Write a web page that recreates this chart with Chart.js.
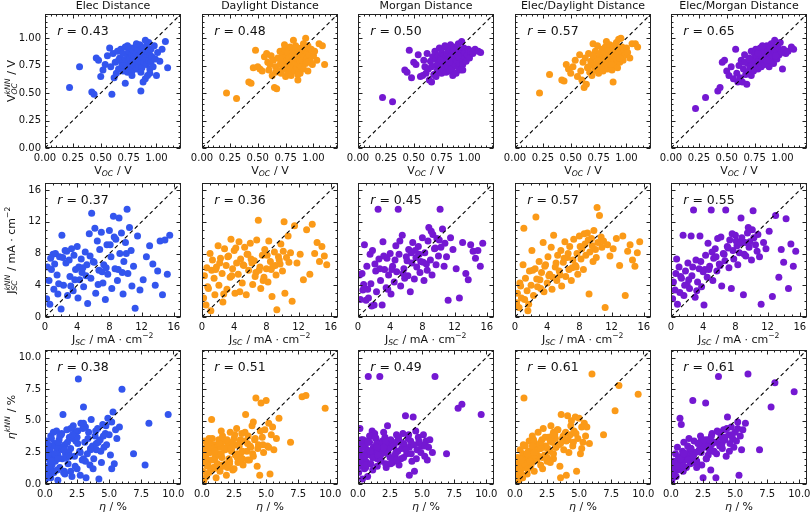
<!DOCTYPE html>
<html lang="en">
<head>
<meta charset="UTF-8">
<title>kNN predictions vs measured values</title>
<script src="https://cdn.jsdelivr.net/npm/chart.js@4.4.0/dist/chart.umd.min.js"></script>
<style>
  body { margin: 0; background: #fff; }
  #wrap { position: relative; width: 810px; height: 516px; overflow: hidden; }
  #wrap canvas { position: absolute; }
</style>
</head>
<body>
<div id="wrap"></div>
<script>
// ---- panel headers, colours, correlation values
const methods = ['Elec Distance', 'Daylight Distance', 'Morgan Distance', 'Elec/Daylight Distance', 'Elec/Morgan Distance'];
const colours = ['#3355ee', '#fb9a18', '#7418d2', '#fb9a18', '#7418d2'];
const rVoc = [0.43, 0.48, 0.50, 0.57, 0.65];
const rJsc = [0.37, 0.36, 0.45, 0.57, 0.55];
const rEta = [0.38, 0.51, 0.49, 0.61, 0.61];

// ---- tick labels
const vocTicks = [0, 0.25, 0.5, 0.75, 1.0];
const jscTicks = [0, 4, 8, 12, 16];
const etaTicks = [0, 2.5, 5, 7.5, 10];

// ---- row 1: open-circuit voltage (measured x, kNN predictions y)
const xVoc = [
  0.22,0.31,0.42,0.44,0.46,0.48,0.50,0.52,0.54,0.56,
  0.58,0.59,0.60,0.61,0.62,0.63,0.64,0.65,0.66,0.67,
  0.68,0.69,0.70,0.70,0.71,0.72,0.72,0.73,0.74,0.74,
  0.75,0.75,0.76,0.76,0.77,0.77,0.78,0.78,0.79,0.79,
  0.80,0.80,0.81,0.81,0.82,0.82,0.83,0.83,0.84,0.84,
  0.85,0.85,0.86,0.86,0.87,0.87,0.88,0.88,0.89,0.89,
  0.90,0.90,0.91,0.91,0.92,0.92,0.93,0.93,0.94,0.94,
  0.95,0.95,0.96,0.97,0.98,0.99,1.00,1.01,1.03,1.05,
  1.08,1.10,0.66,0.70,0.74,0.78,0.82,0.86,0.90,0.94
];
const vocElec = [
  0.55,0.74,0.51,0.49,0.82,0.80,0.65,0.71,0.76,0.84,
  0.91,0.74,0.49,0.86,0.64,0.78,0.68,0.88,0.72,0.82,
  0.90,0.76,0.70,0.86,0.80,0.59,0.92,0.75,0.84,0.69,
  0.79,0.88,0.73,0.82,0.91,0.77,0.85,0.70,0.80,0.89,
  0.75,0.83,0.92,0.78,0.86,0.72,0.81,0.90,0.76,0.84,
  0.94,0.79,0.52,0.87,0.73,0.83,0.60,0.91,0.78,0.86,
  0.63,0.82,0.93,0.76,0.66,0.88,0.80,0.96,0.72,0.85,
  0.90,0.78,0.83,0.74,0.93,0.81,0.66,0.87,0.79,0.90,
  0.97,0.73,0.80,0.75,0.93,0.66,0.95,0.69,0.98,0.68
];
const vocDaylight = [
  0.50,0.45,0.60,0.59,0.73,0.89,0.74,0.72,0.70,0.83,
  0.86,0.78,0.71,0.76,0.84,0.66,0.80,0.55,0.74,0.54,
  0.82,0.70,0.88,0.76,0.68,0.79,0.85,0.72,0.77,0.90,
  0.65,0.83,0.74,0.80,0.69,0.87,0.76,0.82,0.71,0.92,
  0.78,0.66,0.84,0.75,0.89,0.80,0.70,0.86,0.77,0.93,
  0.73,0.82,0.62,0.88,0.76,0.84,0.68,0.79,0.91,0.74,
  0.86,0.80,0.95,0.72,0.83,0.89,0.77,1.00,0.81,0.87,
  0.93,0.70,0.85,0.79,0.90,0.76,0.84,0.88,0.80,0.95,
  0.93,0.76,0.69,0.81,0.94,0.73,0.98,0.67,0.91,0.78
];
const vocMorgan = [
  0.46,0.42,0.71,0.69,0.89,0.64,0.78,0.76,0.85,0.65,
  0.66,0.80,0.74,0.68,0.86,0.72,0.62,0.79,0.60,0.83,
  0.67,0.88,0.75,0.81,0.70,0.84,0.77,0.91,0.73,0.82,
  0.68,0.87,0.79,0.75,0.84,0.71,0.92,0.78,0.83,0.69,
  0.86,0.80,0.74,0.89,0.82,0.70,0.94,0.77,0.85,0.72,
  0.88,0.66,0.81,0.92,0.76,0.84,0.68,0.90,0.79,0.86,
  0.73,0.95,0.82,0.77,0.88,0.71,0.84,0.97,0.80,0.76,
  0.91,0.83,0.87,0.79,0.85,0.90,0.82,0.88,0.86,0.90,
  0.88,0.87,0.74,0.65,0.80,0.93,0.78,0.89,0.84,0.71
];
const vocElecDaylight = [
  0.50,0.67,0.62,0.61,0.76,0.72,0.68,0.74,0.80,0.65,
  0.85,0.70,0.62,0.78,0.55,0.82,0.58,0.73,0.86,0.69,
  0.79,0.66,0.95,0.75,0.83,0.71,0.88,0.77,0.93,0.73,
  0.81,0.68,0.86,0.76,0.80,0.72,0.90,0.78,0.84,0.70,
  0.87,0.79,0.74,0.92,0.83,0.77,0.88,0.72,0.85,0.80,
  0.94,0.76,0.82,0.89,0.71,0.86,0.60,0.91,0.79,0.84,
  0.75,0.88,0.96,0.81,0.73,0.90,0.85,0.99,0.78,0.87,
  1.00,0.83,0.92,0.80,0.89,0.85,0.91,0.87,0.82,0.95,
  0.95,0.92,0.74,0.84,0.79,0.71,0.97,0.76,0.94,0.82
];
const vocElecMorgan = [
  0.36,0.46,0.52,0.55,0.78,0.80,0.70,0.66,0.74,0.63,
  0.90,0.68,0.60,0.75,0.64,0.80,0.60,0.72,0.85,0.67,
  0.58,0.77,0.70,0.82,0.74,0.66,0.88,0.76,0.81,0.71,
  0.85,0.73,0.79,0.90,0.76,0.83,0.72,0.87,0.80,0.77,
  0.84,0.91,0.79,0.74,0.86,0.82,0.78,0.89,0.83,0.76,
  0.87,0.80,0.93,0.84,0.78,0.88,0.74,0.85,0.91,0.82,
  0.87,0.79,0.94,0.84,0.89,0.77,0.86,0.98,0.83,0.90,
  0.88,0.81,0.92,0.85,0.96,0.87,0.72,0.90,0.86,0.88,
  0.92,0.90,0.78,0.81,0.70,0.86,0.93,0.80,0.95,0.84
];

// ---- row 2: short-circuit current density
const xJsc = [
  0.2,0.3,0.5,0.6,0.8,1.0,1.1,1.3,1.5,1.6,
  1.8,2.0,2.1,2.3,2.5,2.6,2.8,3.0,3.1,3.3,
  3.5,3.6,3.8,4.0,4.1,4.3,4.5,4.6,4.8,5.0,
  5.2,5.3,5.5,5.7,5.8,6.0,6.2,6.3,6.5,6.7,
  6.8,7.0,7.2,7.3,7.5,7.7,7.8,8.0,8.2,8.3,
  8.5,8.7,8.8,9.0,9.2,9.3,9.5,9.7,9.8,10.0,
  10.2,10.3,10.5,10.7,10.8,11.0,11.2,11.5,11.8,12.2,
  12.6,13.0,13.4,13.7,14.0,14.3,14.6,14.9,15.2,15.5,
  1.2,2.2,3.2,4.2,5.1,6.1,7.1,8.1,9.1,10.1,
  0.7,1.7,2.7,3.7,4.7,5.6,6.6,7.6,8.6,9.6
];
const jscElec = [
  2.3,6.3,4.6,1.6,6.0,7.9,3.5,8.0,5.3,2.9,
  7.6,1.0,10.3,4.0,8.4,6.8,2.7,7.2,5.1,8.6,
  3.3,7.8,6.0,8.9,2.4,4.7,7.3,5.6,3.8,8.2,
  6.6,1.7,10.5,4.9,13.1,7.0,11.2,3.0,9.6,5.9,
  8.5,10.7,4.3,6.6,2.2,9.1,5.4,10.9,7.6,3.6,
  12.7,6.1,9.8,4.6,12.5,8.0,10.6,2.9,7.0,9.4,
  13.6,5.5,11.3,8.4,3.9,6.4,1.1,10.2,3.4,4.7,
  7.6,9.0,6.7,4.0,5.8,9.6,2.8,9.7,5.4,10.3,
  6.7,7.5,3.9,6.3,5.2,6.9,5.7,9.1,6.0,8.0,
  7.4,4.2,8.3,4.7,6.2,7.7,4.1,6.2,10.1,5.6
];
const jscDaylight = [
  2.4,5.2,1.5,6.2,3.6,8.0,0.8,7.2,4.9,2.8,
  6.3,9.0,4.0,7.4,5.5,1.9,8.6,6.5,3.5,7.7,
  5.0,9.8,6.1,8.4,3.0,6.8,5.4,9.5,7.3,4.3,
  6.5,8.8,2.8,7.9,5.9,9.3,6.8,4.1,7.1,5.6,
  9.7,12.2,6.3,3.6,7.8,5.0,8.5,6.1,4.4,9.6,
  7.0,2.6,6.4,8.2,5.3,0.9,7.6,6.7,9.2,5.8,
  12.0,3.0,7.5,10.2,6.9,8.1,2.0,11.5,6.8,7.9,
  4.7,11.0,5.4,11.7,8.0,9.4,7.0,8.9,7.7,6.6,
  5.9,6.8,7.6,8.7,6.6,7.3,5.9,7.8,6.5,8.3,
  3.8,6.0,2.9,5.2,3.2,7.9,5.1,4.6,6.0,7.2
];
const jscMorgan = [
  5.3,2.2,5.5,3.4,9.1,2.1,6.4,2.4,7.9,4.2,
  8.4,1.5,6.7,3.2,13.6,7.3,4.6,1.5,9.5,6.0,
  3.7,7.4,5.3,8.0,2.9,6.4,4.4,7.2,5.7,13.6,
  9.6,3.9,10.3,6.1,4.9,7.6,5.2,8.5,3.2,6.8,
  9.4,4.8,7.5,6.3,8.9,5.6,7.0,10.0,4.6,8.1,
  6.7,9.6,11.3,7.2,5.3,10.4,8.6,6.6,9.9,7.7,
  13.6,8.8,11.1,6.4,9.3,7.6,2.1,10.0,8.5,6.1,
  2.4,9.4,5.5,4.7,9.1,8.3,7.4,8.4,6.4,9.3,
  3.5,5.8,7.7,6.0,7.9,7.1,8.4,6.9,10.8,9.7,
  4.1,1.4,6.1,3.5,9.0,5.5,8.1,7.9,5.9,8.7
];
const jscElecDaylight = [
  1.8,3.0,1.2,4.3,2.4,6.6,11.2,4.9,3.3,0.8,
  5.8,4.0,8.4,2.7,6.1,12.6,3.8,7.0,4.7,5.6,
  9.4,3.2,6.6,4.3,7.6,5.4,8.8,3.5,10.3,6.3,
  4.6,7.8,5.8,8.4,3.9,6.9,9.5,5.1,7.5,6.0,
  8.9,4.6,7.2,9.8,6.5,8.0,5.4,10.2,7.3,8.6,
  6.0,9.2,7.8,10.6,2.9,8.2,9.9,7.0,10.9,8.5,
  13.8,9.4,12.8,10.1,8.8,9.6,1.2,9.1,7.7,8.6,
  9.9,6.5,10.2,2.7,8.3,9.1,7.2,6.4,8.1,9.5,
  2.2,5.9,3.6,5.2,6.8,7.4,6.2,8.9,9.7,7.5,
  3.9,1.6,4.8,6.4,5.0,5.3,8.0,6.3,10.5,9.0
];
const jscElecMorgan = [
  2.3,4.4,3.4,5.5,1.6,6.3,3.1,4.9,10.3,2.7,
  5.8,4.1,6.8,3.6,10.2,5.2,13.5,2.5,7.2,4.4,
  6.1,10.2,3.8,5.7,1.5,7.8,5.0,9.3,6.4,13.5,
  4.6,7.4,8.6,5.8,9.9,6.7,10.1,3.9,8.0,7.1,
  13.5,8.9,6.2,9.7,3.6,8.4,7.3,10.3,9.0,6.6,
  8.1,12.5,10.0,2.8,9.4,7.7,10.6,8.8,9.5,7.2,
  13.4,10.0,9.1,8.3,10.4,7.6,1.6,9.4,8.6,10.8,
  2.6,12.8,5.0,8.5,6.9,12.4,3.6,9.2,6.4,8.3,
  5.1,4.7,3.3,6.0,8.2,6.5,8.7,9.6,7.9,11.0,
  7.3,4.0,6.3,7.0,6.0,7.6,7.9,10.5,9.3,11.3
];

// ---- row 3: power conversion efficiency
const xEta = [
  0.05,0.1,0.15,0.2,0.25,0.3,0.35,0.4,0.45,0.5,
  0.55,0.6,0.7,0.75,0.8,0.9,0.95,1.0,1.1,1.15,
  1.2,1.3,1.35,1.4,1.5,1.55,1.6,1.7,1.8,1.9,
  2.0,2.1,2.2,2.3,2.4,2.5,2.6,2.7,2.8,2.9,
  3.0,3.1,3.2,3.3,3.4,3.5,3.6,3.7,3.8,3.9,
  4.0,4.1,4.2,4.3,4.4,4.5,4.6,4.7,4.8,4.9,
  5.0,5.1,5.2,5.3,5.4,5.5,5.6,5.8,6.0,6.9,
  7.8,8.1,9.6,0.3,0.6,0.9,1.25,1.65,2.15,2.55,
  0.2,0.45,0.8,1.05,1.45,1.85,2.35,2.75,3.15,3.55,
  0.1,0.4,0.65,1.0,1.5,2.0,2.5,3.0,4.0,5.2,
  0.15,0.35,0.55,0.75,0.95,1.15,1.35,1.55,1.75,1.95,
  2.15,2.35,2.55,2.75,2.95,3.15,3.35,3.55,3.75,3.95,
  4.15,4.35,4.55,4.75,0.25,0.5,1.0,1.5,2.0,3.0
];
const etaElec = [
  0.4,3.4,1.2,2.5,0.8,3.0,1.9,2.7,0.5,3.6,
  1.5,2.2,0.9,3.2,1.8,4.2,2.6,0.3,3.5,1.3,
  2.9,4.0,2.0,5.5,1.0,3.1,2.4,4.3,1.6,3.7,
  2.8,0.6,4.6,2.2,3.4,1.2,8.3,2.6,4.8,1.9,
  6.1,3.3,0.5,2.4,4.1,1.5,5.1,3.0,2.0,3.8,
  2.7,4.4,0.4,3.5,1.7,4.7,2.9,4.0,3.1,5.2,
  3.9,2.3,4.9,5.7,1.6,4.3,3.6,4.5,7.5,2.4,
  1.5,4.8,5.5,2.3,1.0,2.9,3.9,2.1,3.6,4.2,
  1.4,3.8,2.0,3.3,0.9,2.5,4.1,0.7,4.5,2.7,
  2.9,1.1,4.1,2.3,3.0,1.0,3.7,2.0,3.2,1.2,
  2.1,1.4,3.0,2.4,1.1,3.8,2.7,0.8,3.3,2.2,
  3.9,1.4,3.2,2.5,4.4,1.8,3.6,2.8,1.2,4.2,
  3.3,2.6,3.8,4.6,3.1,1.8,2.0,2.7,4.4,4.8
];
const etaDaylight = [
  1.0,2.8,0.3,3.4,1.7,2.2,0.6,3.0,1.4,2.5,
  0.9,3.3,1.9,5.1,2.6,1.2,3.1,2.0,0.5,2.9,
  1.6,3.5,2.3,1.0,3.0,2.1,3.8,1.4,2.7,0.7,
  3.2,2.0,4.1,2.6,1.1,3.6,2.3,4.4,1.7,3.0,
  2.4,4.0,1.5,3.4,5.5,2.6,3.8,1.9,2.9,4.6,
  2.2,3.5,6.8,1.4,3.1,0.7,6.4,3.7,2.5,4.3,
  6.6,3.0,4.8,0.8,3.9,4.5,2.7,3.6,5.2,3.3,
  6.9,7.0,6.0,1.8,2.9,1.3,2.4,3.4,1.8,3.1,
  2.6,1.5,3.6,2.2,2.9,1.6,3.3,2.4,2.0,3.2,
  1.9,3.1,2.5,1.3,4.2,2.8,1.2,3.5,4.9,2.9,
  2.3,1.5,3.6,2.9,1.9,2.4,3.2,1.5,2.8,3.5,
  1.6,2.9,3.9,2.1,3.3,2.6,4.1,1.9,3.0,2.4,
  3.6,2.8,4.2,3.1,2.0,3.2,2.6,2.4,1.3,2.0
];
const etaMorgan = [
  0.9,2.6,4.4,1.5,3.2,2.0,0.4,3.5,2.4,1.2,
  3.0,1.8,2.7,0.6,8.5,3.3,1.6,2.3,4.2,1.1,
  2.9,4.0,2.1,3.6,1.4,2.6,3.1,8.5,1.9,3.4,
  2.5,3.7,1.3,4.6,2.8,2.1,3.4,1.7,3.0,2.3,
  3.9,2.6,1.5,3.3,2.8,4.0,3.1,5.4,2.4,3.6,
  2.9,3.4,1.8,5.3,1.0,4.2,2.7,3.7,3.2,2.5,
  3.0,3.9,2.2,3.4,1.9,2.9,3.5,2.5,8.5,2.4,
  6.0,6.3,5.5,2.2,1.3,3.8,2.5,3.2,1.6,3.5,
  1.8,2.2,3.4,2.6,3.2,2.4,3.0,1.9,3.6,2.1,
  1.4,3.1,2.3,3.8,2.0,4.1,2.9,3.3,0.7,3.0,
  2.0,2.9,1.5,3.3,2.6,2.1,3.7,2.3,1.8,2.8,
  3.3,2.4,1.6,3.0,2.5,3.7,2.0,3.2,2.7,3.9,
  2.4,3.1,2.0,3.4,3.5,2.2,1.6,2.9,2.9,1.9
];
const etaElecDaylight = [
  0.3,1.2,0.6,2.1,0.9,1.6,0.4,2.7,1.1,1.9,
  0.7,2.4,6.8,1.4,3.0,1.8,0.8,2.2,3.4,1.3,
  2.6,1.7,3.8,2.1,1.0,3.2,2.5,1.9,4.1,2.8,
  1.5,3.5,4.4,2.3,3.0,1.8,3.7,2.6,4.6,3.3,
  2.0,3.9,2.9,4.3,3.1,1.4,5.5,3.6,2.7,4.0,
  3.4,5.4,2.5,3.9,5.0,3.0,4.2,5.3,1.0,3.6,
  5.2,2.4,4.5,3.3,4.8,3.8,4.5,3.2,8.7,3.9,
  5.8,7.8,7.1,1.6,0.5,2.4,1.5,2.9,1.2,2.0,
  0.2,2.0,1.3,2.6,3.5,2.2,2.9,1.7,3.6,0.5,
  0.9,1.6,3.1,2.3,2.7,3.3,2.1,4.1,0.7,2.8,
  0.8,1.3,2.0,1.6,2.4,1.8,3.0,2.3,2.7,3.1,
  2.1,3.7,2.8,3.4,3.9,2.9,4.3,3.2,3.8,4.1,
  3.5,4.6,3.3,4.0,1.0,1.9,1.2,2.5,2.8,2.4
];
const etaElecMorgan = [
  0.2,1.0,0.5,1.8,0.8,1.4,2.4,0.6,1.7,2.9,
  1.2,2.1,5.2,1.5,4.7,2.6,1.0,3.3,1.9,2.4,
  1.3,3.0,2.2,3.6,1.6,2.8,2.0,6.6,3.4,2.5,
  1.8,3.2,2.7,3.8,1.5,0.5,2.9,6.4,3.5,2.3,
  3.1,1.1,4.0,2.6,3.3,0.5,4.2,8.5,3.0,3.7,
  2.8,4.3,3.5,2.2,5.3,3.9,3.2,4.5,3.6,2.9,
  4.1,3.4,4.9,0.7,3.8,2.7,4.3,4.8,8.7,2.7,
  6.1,8.0,7.3,1.2,2.0,1.5,2.3,1.7,2.6,3.1,
  0.7,1.3,2.2,1.9,2.8,2.5,3.4,2.0,3.1,2.4,
  0.9,1.6,1.4,2.2,2.5,1.8,3.0,3.5,3.3,4.4,
  0.7,1.6,1.1,2.0,1.4,2.4,1.9,2.8,2.2,1.7,
  3.2,2.5,3.5,2.0,2.9,3.8,2.6,3.3,4.1,3.0,
  3.7,4.4,2.6,3.9,1.1,1.4,2.4,2.8,1.3,2.7
];

// axis labels as segments (t = normal text, sub/sup = small script)
const rows = [
  { x: xVoc, ys: [vocElec, vocDaylight, vocMorgan, vocElecDaylight, vocElecMorgan],
    r: rVoc, ticks: vocTicks, max: 1.22, fmt: v => v.toFixed(2),
    xLabel: [{ t: 'V' }, { sub: 'OC' }, { t: ' / V' }],
    yLabel: [{ t: 'V' }, { sub: 'OC', sup: 'kNN' }, { t: ' / V' }] },
  { x: xJsc, ys: [jscElec, jscDaylight, jscMorgan, jscElecDaylight, jscElecMorgan],
    r: rJsc, ticks: jscTicks, max: 16.9, fmt: v => String(v),
    xLabel: [{ t: 'J' }, { sub: 'SC' }, { t: ' / mA · cm' }, { sup: '−2', up: true }],
    yLabel: [{ t: 'J' }, { sub: 'SC', sup: 'kNN' }, { t: ' / mA · cm' }, { sup: '−2', up: true }] },
  { x: xEta, ys: [etaElec, etaDaylight, etaMorgan, etaElecDaylight, etaElecMorgan],
    r: rEta, ticks: etaTicks, max: 10.6, fmt: v => v.toFixed(1),
    xLabel: [{ t: 'η', it: true }, { t: ' / %' }],
    yLabel: [{ t: 'η', it: true }, { sup: 'kNN' }, { t: ' / %' }] }
];

const FONT = '"DejaVu Sans", "Liberation Sans", sans-serif';
Chart.defaults.font.family = FONT;

function fontOf(size, italic) {
  return (italic ? 'italic ' : '') + size + 'px ' + FONT;
}

function drawSegs(ctx, segs, cx, cy, size) {
  const ss = size * 0.7;
  let w = 0;
  const placed = segs.map(s => {
    const at = w;
    if (s.sub !== undefined || s.sup !== undefined) {
      ctx.font = fontOf(ss, !s.up);
      const a = s.sub ? ctx.measureText(s.sub).width : 0;
      const b = s.sup ? ctx.measureText(s.sup).width : 0;
      w += Math.max(a, b) + 0.5;
    } else {
      ctx.font = fontOf(size, s.it);
      w += ctx.measureText(s.t).width;
    }
    return at;
  });
  const x0 = cx - w / 2, base = cy + size * 0.36;
  ctx.textAlign = 'left';
  ctx.textBaseline = 'alphabetic';
  segs.forEach((s, i) => {
    if (s.sub !== undefined || s.sup !== undefined) {
      ctx.font = fontOf(ss, !s.up);
      if (s.sub) ctx.fillText(s.sub, x0 + placed[i], base + size * 0.22);
      if (s.sup) ctx.fillText(s.sup, x0 + placed[i], base - size * 0.42);
    } else {
      ctx.font = fontOf(size, s.it);
      ctx.fillText(s.t, x0 + placed[i], base);
    }
  });
}

// frame, inward ticks on four sides, titles, r value, axis labels
const panelDeco = {
  id: 'panelDeco',
  afterDraw(chart) {
    const { ctx, chartArea: a, scales } = chart;
    const p = chart.options.plugins.panelDeco;
    const step = p.ticks[1] - p.ticks[0];
    const nMinor = p.minor;
    ctx.save();
    ctx.strokeStyle = '#222';
    ctx.lineWidth = 1;
    const l = Math.round(a.left) + 0.5, r = Math.round(a.right) - 0.5;
    const t = Math.round(a.top) + 0.5, b = Math.round(a.bottom) - 0.5;
    ctx.strokeRect(l, t, r - l, b - t);

    ctx.beginPath();
    for (let v = 0; v <= p.max + 1e-9; v += step / nMinor) {
      const isMajor = Math.abs(v / step - Math.round(v / step)) < 1e-6;
      const len = isMajor ? 4 : 2;
      const px = Math.round(scales.x.getPixelForValue(v)) + 0.5;
      const py = Math.round(scales.y.getPixelForValue(v)) + 0.5;
      ctx.moveTo(px, b); ctx.lineTo(px, b - len);
      ctx.moveTo(px, t); ctx.lineTo(px, t + len);
      ctx.moveTo(l, py); ctx.lineTo(l + len, py);
      ctx.moveTo(r, py); ctx.lineTo(r - len, py);
    }
    ctx.stroke();

    ctx.fillStyle = '#111';
    const mid = (a.left + a.right) / 2;
    if (p.title) {
      ctx.font = fontOf(11, false);
      ctx.textAlign = 'center';
      ctx.textBaseline = 'middle';
      ctx.fillText(p.title, mid, a.top - 8);
    }
    drawSegs(ctx, [{ t: 'r', it: true }, { t: ' = ' + p.r.toFixed(2) }], a.left + 38, a.top + 16.5, 12.5);
    drawSegs(ctx, p.xLabel, mid, a.bottom + 22, 11);
    if (p.yLabel) {
      ctx.translate(11, (a.top + a.bottom) / 2);
      ctx.rotate(-Math.PI / 2);
      drawSegs(ctx, p.yLabel, 0, 0, 11);
    }
    ctx.restore();
  }
};

const wrap = document.getElementById('wrap');
const plotLeft = [45, 202, 358, 515, 671];
const plotTop = [14, 183, 350];
const plotW = 136, plotH = 134;

rows.forEach((row, ri) => {
  row.ys.forEach((ys, ci) => {
    const yW = ci === 0 ? 45 : 16;
    const padR = 10;
    const cv = document.createElement('canvas');
    cv.width = yW + plotW + padR;
    cv.height = 14 + plotH + 32;
    cv.style.left = (plotLeft[ci] - yW) + 'px';
    cv.style.top = (plotTop[ri] - 14) + 'px';
    wrap.appendChild(cv);

    const pts = ys.map((y, i) => ({ x: row.x[i], y: y }));
    const tickFont = { family: FONT, size: 10 };

    new Chart(cv, {
      type: 'scatter',
      data: {
        datasets: [
          { type: 'line', data: [{ x: 0, y: 0 }, { x: row.max, y: row.max }],
            borderColor: '#000', borderWidth: 1.1, borderDash: [4, 3],
            pointRadius: 0, fill: false, order: 0 },
          { data: pts, backgroundColor: colours[ci], borderWidth: 0,
            pointRadius: 3.5, order: 1 }
        ]
      },
      options: {
        responsive: false,
        animation: false,
        devicePixelRatio: 1,
        layout: { padding: { top: 14, right: padR, left: 0, bottom: 0 } },
        plugins: {
          legend: { display: false },
          tooltip: { enabled: false },
          panelDeco: {
            title: ri === 0 ? methods[ci] : null,
            r: row.r[ci], ticks: row.ticks, max: row.max,
            minor: ri === 1 ? 4 : 5,
            xLabel: row.xLabel, yLabel: ci === 0 ? row.yLabel : null
          }
        },
        scales: {
          x: {
            type: 'linear', min: 0, max: row.max,
            grid: { display: false, drawTicks: false }, border: { display: false },
            ticks: { font: tickFont, color: '#111', padding: 4, maxRotation: 0, autoSkip: false,
                     callback: v => row.fmt(v) },
            afterBuildTicks: s => { s.ticks = row.ticks.map(v => ({ value: v })); },
            afterFit: s => { s.height = 32; }
          },
          y: {
            type: 'linear', min: 0, max: row.max,
            grid: { display: false, drawTicks: false }, border: { display: false },
            ticks: { display: ci === 0, font: tickFont, color: '#111', padding: 4, autoSkip: false,
                     callback: v => row.fmt(v) },
            afterBuildTicks: s => { s.ticks = row.ticks.map(v => ({ value: v })); },
            afterFit: s => { s.width = yW; }
          }
        }
      },
      plugins: [panelDeco]
    });
  });
});
</script>
</body>
</html>
